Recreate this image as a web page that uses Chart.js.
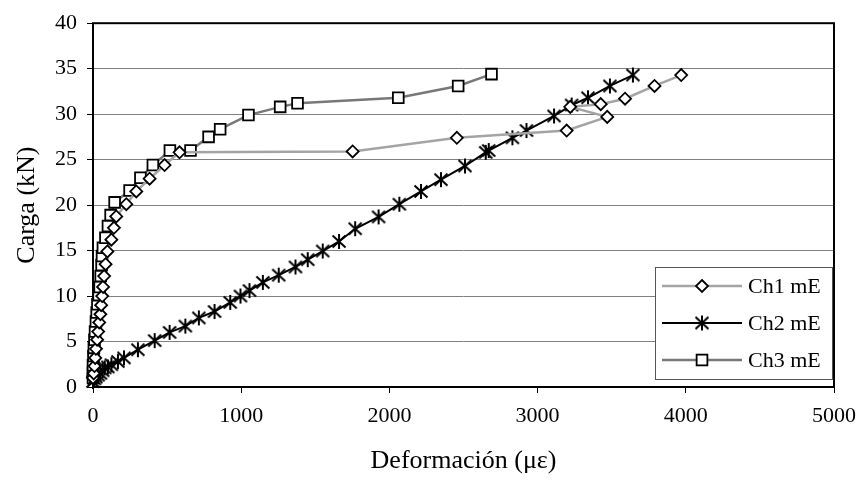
<!DOCTYPE html>
<html>
<head>
<meta charset="utf-8">
<title>Carga - Deformación</title>
<script src="https://cdn.jsdelivr.net/npm/chart.js@4.4.1/dist/chart.umd.min.js"></script>
<style>
	body { margin: 0; background: #fff; }
	#wrap { width: 866px; height: 483px; }
</style>
</head>
<body>
<div id="wrap"><canvas id="chart" width="866" height="483"></canvas></div>
<script>
// values (strain in micro-strain, load in kN)
var ch1Strain = [0, 5, 10, 15, 20, 28, 35, 42, 50, 55, 62, 68, 75, 85, 97, 124, 141, 157, 225, 292, 382, 483, 584, 1752, 2455, 3196, 3470, 3220, 3426, 3590, 3789, 3969];
var ch1Load   = [1.0, 1.5, 2.3, 3.2, 4.2, 5.2, 6.1, 7.1, 8.0, 9.0, 10.0, 11.0, 12.2, 13.5, 14.9, 16.2, 17.5, 18.75, 20.1, 21.5, 22.9, 24.4, 25.8, 25.9, 27.4, 28.2, 29.7, 30.8, 31.1, 31.7, 33.1, 34.3];

var ch2Strain = [0, 10, 20, 35, 50, 65, 79, 100, 124, 168, 209, 303, 416, 517, 623, 714, 820, 926, 995, 1056, 1146, 1253, 1366, 1449, 1550, 1660, 1769, 1927, 2067, 2213, 2348, 2510, 2650, 2670, 2830, 2925, 3111, 3230, 3340, 3488, 3643];
var ch2Load   = [0.6, 0.9, 1.1, 1.3, 1.5, 1.8, 2.1, 2.2, 2.45, 2.8, 3.2, 4.1, 5.1, 6.0, 6.7, 7.6, 8.3, 9.3, 10.0, 10.6, 11.5, 12.3, 13.2, 14.0, 14.95, 16.0, 17.4, 18.7, 20.1, 21.5, 22.8, 24.3, 25.8, 26.0, 27.4, 28.2, 29.8, 31.0, 31.8, 33.1, 34.3];

var ch3Strain = [0, 0, 0, 3, 6, 10, 14, 20, 25, 30, 38, 45, 52, 58, 61, 67, 84, 101, 119, 146, 247, 320, 404, 519, 658, 780, 858, 1049, 1263, 1380, 2060, 2464, 2689];
var ch3Load   = [1.0, 1.6, 2.4, 3.4, 4.3, 5.2, 6.1, 7.2, 8.2, 9.1, 10.1, 11.0, 12.2, 13.4, 14.4, 15.3, 16.4, 17.7, 18.9, 20.3, 21.6, 23.0, 24.4, 26.0, 26.0, 27.5, 28.35, 29.9, 30.8, 31.2, 31.8, 33.1, 34.4];

var seriesNames = ['Ch1 mE', 'Ch2 mE', 'Ch3 mE'];
var xTicks = [0, 1000, 2000, 3000, 4000, 5000];
var yTicks = [0, 5, 10, 15, 20, 25, 30, 35, 40];

var serif = "'Liberation Serif', 'Times New Roman', serif";

function pairs(xs, ys)
{
	var out = [];
	for (var i = 0; i < xs.length; i++) {
		out.push({x: xs[i], y: ys[i]});
	}
	return out;
}

// asterisk marker: vertical bar plus an X
function makeStar()
{
	var c = document.createElement('canvas');
	c.width = 16; c.height = 17;
	var g = c.getContext('2d');
	g.strokeStyle = '#000';
	g.lineWidth = 2;
	g.beginPath();
	g.moveTo(8, 1); g.lineTo(8, 16);
	g.moveTo(1.5, 2.5); g.lineTo(14.5, 14.5);
	g.moveTo(14.5, 2.5); g.lineTo(1.5, 14.5);
	g.stroke();
	return c;
}
var star = makeStar();

// black frame round the plot area
var framePlugin = {
	id: 'frame',
	beforeDatasetsDraw: function(chart) {
		var ctx = chart.ctx, a = chart.chartArea;
		ctx.save();
		ctx.strokeStyle = '#000';
		ctx.lineWidth = 2;
		ctx.strokeRect(a.left, a.top, a.right - a.left, a.bottom - a.top);
		ctx.restore();
	}
};

function drawMarker(ctx, ds, x, y)
{
	if (ds.pointStyle === 'rectRot') {
		var r = ds.pointRadius;
		ctx.beginPath();
		ctx.moveTo(x, y - r); ctx.lineTo(x + r, y); ctx.lineTo(x, y + r); ctx.lineTo(x - r, y); ctx.closePath();
		ctx.fillStyle = '#fff'; ctx.fill();
		ctx.strokeStyle = '#000'; ctx.lineWidth = ds.pointBorderWidth; ctx.stroke();
	} else if (ds.pointStyle === 'rect') {
		var s = ds.pointRadius * Math.SQRT1_2;
		ctx.fillStyle = '#fff'; ctx.fillRect(x - s, y - s, 2 * s, 2 * s);
		ctx.strokeStyle = '#000'; ctx.lineWidth = ds.pointBorderWidth; ctx.strokeRect(x - s, y - s, 2 * s, 2 * s);
	} else {
		ctx.drawImage(ds.pointStyle, x - ds.pointStyle.width / 2, y - ds.pointStyle.height / 2);
	}
}

// legend box sitting inside the plot, bottom right
var boxLegend = {
	id: 'boxLegend',
	afterDraw: function(chart) {
		var ctx = chart.ctx, a = chart.chartArea;
		var w = 177, h = 112;
		var left = a.right - 2 - w, top = a.bottom - 8 - h;
		ctx.save();
		ctx.fillStyle = '#fff';
		ctx.fillRect(left, top, w, h);
		ctx.strokeStyle = '#555';
		ctx.lineWidth = 1;
		ctx.strokeRect(left + 0.5, top + 0.5, w, h);
		chart.data.datasets.forEach(function(ds, i) {
			var y = top + 19 + i * 37;
			ctx.strokeStyle = ds.borderColor;
			ctx.lineWidth = ds.borderWidth;
			ctx.beginPath();
			ctx.moveTo(left + 7, y);
			ctx.lineTo(left + 87, y);
			ctx.stroke();
			drawMarker(ctx, ds, left + 47, y);
			ctx.fillStyle = '#000';
			ctx.font = '22px ' + serif;
			ctx.textBaseline = 'middle';
			ctx.textAlign = 'left';
			ctx.fillText(ds.label, left + 93, y + 1);
		});
		ctx.restore();
	}
};

var ctx = document.getElementById('chart').getContext('2d');
var chart = new Chart(ctx, {
	type: 'scatter',
	data: {
		datasets: [
			{
				label: seriesNames[0],
				data: pairs(ch1Strain, ch1Load),
				showLine: true,
				borderColor: '#a4a4a4',
				borderWidth: 2.5,
				pointStyle: 'rectRot',
				pointRadius: 6,
				pointBorderWidth: 1.8,
				pointBorderColor: '#000',
				pointBackgroundColor: '#fff',
				clip: false
			},
			{
				label: seriesNames[1],
				data: pairs(ch2Strain, ch2Load),
				showLine: true,
				borderColor: '#000',
				borderWidth: 2,
				pointStyle: star,
				pointRadius: 8,
				clip: false
			},
			{
				label: seriesNames[2],
				data: pairs(ch3Strain, ch3Load),
				showLine: true,
				borderColor: '#787878',
				borderWidth: 2.5,
				pointStyle: 'rect',
				pointRadius: 7.6,
				pointBorderWidth: 1.8,
				pointBorderColor: '#000',
				pointBackgroundColor: '#fff',
				clip: false
			}
		]
	},
	options: {
		responsive: false,
		animation: false,
		devicePixelRatio: 1,
		layout: { padding: { top: 19, right: 31, left: 0, bottom: 0 } },
		plugins: {
			legend: { display: false },
			tooltip: { enabled: false }
		},
		scales: {
			x: {
				type: 'linear',
				min: xTicks[0],
				max: xTicks[xTicks.length - 1],
				afterBuildTicks: function(scale) { scale.ticks = xTicks.map(function(v) { return {value: v}; }); },
				afterFit: function(scale) { scale.height = 96; },
				border: { display: false },
				grid: { drawOnChartArea: false, tickLength: 6, tickColor: '#000', tickWidth: 1 },
				ticks: { color: '#000', font: { family: serif, size: 22 }, padding: 10, maxRotation: 0,
					callback: function(v) { return String(v); } },
				title: { display: true, text: 'Deformación (με)', color: '#000', font: { family: serif, size: 26 }, padding: { bottom: 6 } }
			},
			y: {
				type: 'linear',
				min: yTicks[0],
				max: yTicks[yTicks.length - 1],
				afterBuildTicks: function(scale) { scale.ticks = yTicks.map(function(v) { return {value: v}; }); },
				afterFit: function(scale) { scale.width = 93; },
				border: { display: false },
				grid: { color: '#808080', lineWidth: 1, tickLength: 6, tickColor: '#000', tickWidth: 1 },
				ticks: { color: '#000', font: { family: serif, size: 22 }, padding: 10,
					callback: function(v) { return String(v); } },
				title: { display: true, text: 'Carga (kN)', color: '#000', font: { family: serif, size: 26 }, padding: { top: 12 } }
			}
		}
	},
	plugins: [framePlugin, boxLegend]
});
</script>
</body>
</html>
